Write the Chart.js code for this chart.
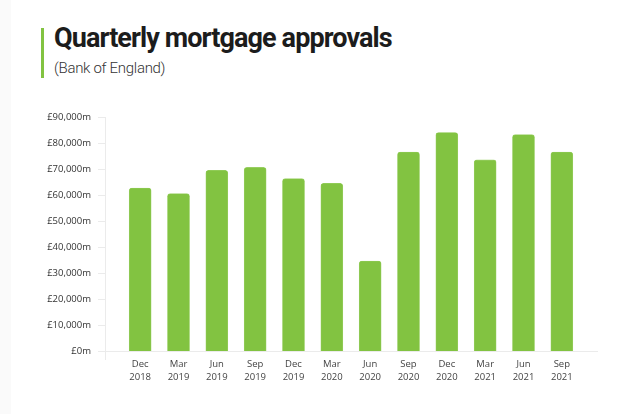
<!DOCTYPE html>
<html lang="en">
<head>
<meta charset="UTF-8">
<title>Quarterly mortgage approvals</title>
<script src="https://cdn.jsdelivr.net/npm/chart.js"></script>
<style>
  html, body { margin: 0; padding: 0; }
  body { width: 623px; height: 414px; background: #fafafa; overflow: hidden; }
  .panel { position: absolute; left: 11px; top: 0; width: 612px; height: 414px; background: #fff; }
  .heading { position: absolute; left: 41px; top: 28px; height: 50px; border-left: 3.5px solid #82c341; padding-left: 10px; }
  .heading h1 { margin: 0; font: 700 27px Roboto, sans-serif; color: #1c1c1c; line-height: 21px; letter-spacing: -0.9px; }
  .heading p { margin: 10px 0 0; font: 300 15px Roboto, sans-serif; color: #333; letter-spacing: -0.3px; }
  #wrap { position: absolute; left: 0; top: 0; width: 623px; height: 414px; }
</style>
</head>
<body>
<div class="panel"></div>
<div class="heading">
  <h1>Quarterly mortgage approvals</h1>
  <p>(Bank of England)</p>
</div>
<div id="wrap"><canvas id="approvals"></canvas></div>

<script>
// quarter labels, two lines each
const months = ['Dec', 'Mar', 'Jun', 'Sep', 'Dec', 'Mar', 'Jun', 'Sep', 'Dec', 'Mar', 'Jun', 'Sep'];
const years = ['2018', '2019', '2019', '2019', '2019', '2020', '2020', '2020', '2020', '2021', '2021', '2021'];

// approvals, £ millions
const approvals = [62700, 60500, 69500, 70600, 66300, 64500, 34600, 76500, 84000, 73500, 83200, 76500];

const yMax = 90000;
const yStep = 10000;

const labels = months.map((m, i) => [m, years[i]]);

// thin grey axis lines + small ticks on the value axis
const axisLines = {
  id: 'axisLines',
  beforeDatasetsDraw(chart) {
    const { ctx, chartArea, scales } = chart;
    const yAxisX = chartArea.left - 15.5;
    ctx.save();
    ctx.strokeStyle = '#ebebeb';
    ctx.lineWidth = 1;
    ctx.beginPath();
    ctx.moveTo(yAxisX, chartArea.top);
    ctx.lineTo(yAxisX, chartArea.bottom + 9);
    ctx.moveTo(yAxisX - 7.5, chartArea.bottom + 0.5);
    ctx.lineTo(chartArea.right + 17, chartArea.bottom + 0.5);
    scales.y.ticks.forEach(t => {
      const y = Math.round(scales.y.getPixelForValue(t.value)) + 0.5;
      ctx.moveTo(yAxisX - 7.5, y);
      ctx.lineTo(yAxisX, y);
    });
    ctx.stroke();
    ctx.restore();
  }
};

new Chart(document.getElementById('approvals'), {
  type: 'bar',
  data: {
    labels: labels,
    datasets: [{
      data: approvals,
      backgroundColor: '#82c341',
      borderColor: '#9fd26c',
      borderWidth: { top: 0.6, left: 0.6, right: 0.6, bottom: 0 },
      borderSkipped: 'bottom',
      borderRadius: { topLeft: 3, topRight: 3 },
      barThickness: 22
    }]
  },
  options: {
    responsive: true,
    maintainAspectRatio: false,
    animation: false,
    layout: { padding: { top: 117, right: 42, bottom: 0, left: 0 } },
    plugins: {
      legend: { display: false },
      tooltip: { enabled: false }
    },
    scales: {
      x: {
        offset: true,
        grid: { display: false, drawTicks: false },
        border: { display: false },
        ticks: {
          padding: 7,
          color: '#444',
          font: { family: 'Open Sans', size: 9.5, lineHeight: 1.33 },
          maxRotation: 0,
          autoSkip: false
        },
        afterFit(scale) { scale.height = 63; }
      },
      y: {
        min: 0,
        max: yMax,
        grid: { display: false, drawTicks: false },
        border: { display: false },
        ticks: {
          stepSize: yStep,
          padding: 30,
          color: '#333',
          font: { family: 'Open Sans', size: 9.5 },
          callback: v => '£' + v.toLocaleString('en-GB') + 'm'
        },
        afterFit(scale) { scale.width = 121; }
      }
    }
  },
  plugins: [axisLines]
});
</script>
</body>
</html>
